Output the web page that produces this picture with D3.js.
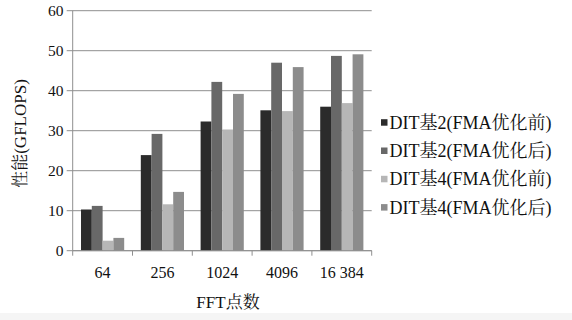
<!DOCTYPE html>
<html><head><meta charset="utf-8">
<script src="https://cdn.jsdelivr.net/npm/d3@7"></script>
</head><body style="margin:0">
<script>
const categories = ["64","256","1024","4096","16 384"];
const seriesNames = ["DIT基2(FMA优化前)","DIT基2(FMA优化后)","DIT基4(FMA优化前)","DIT基4(FMA优化后)"];
const radix2Before = [10.3, 23.9, 32.3, 35.1, 36.0];
const radix2After  = [11.2, 29.2, 42.2, 47.0, 48.7];
const radix4Before = [2.5, 11.6, 30.3, 34.9, 36.9];
const radix4After  = [3.2, 14.7, 39.2, 45.9, 49.1];
const yTicks = [0,10,20,30,40,50,60];
const colors = ["#2b2b2b","#686868","#b6b6b6","#8c8c8c"];
const series = [radix2Before, radix2After, radix4Before, radix4After];

const LATIN = "Liberation Serif", CJK = "Noto Serif CJK SC";
function setText(t, s){
  (s.match(/[\u3400-\u9fff]+|[^\u3400-\u9fff]+/g)||[]).forEach(run=>{
    t.append("tspan").attr("font-family",/[\u3400-\u9fff]/.test(run)?CJK:LATIN).text(run);
  });
  return t;
}

const W=572,H=320;
const svg=d3.select("body").append("svg").attr("width",W).attr("height",H);
svg.append("rect").attr("x",0).attr("y",313).attr("width",W).attr("height",7).attr("fill","#f5f5f5");

const m={l:72.7,r:371.7,t:10.7,b:250.7};
const x=d3.scaleBand().domain(categories).range([m.l,m.r]).paddingInner(0).paddingOuter(0);
const xs=d3.scaleBand().domain(d3.range(4)).range([0,x.bandwidth()]).paddingOuter(0.77).paddingInner(0);
const y=d3.scaleLinear().domain([0,60]).range([m.b,m.t]);

// grid
svg.append("g").selectAll("line").data(yTicks).join("line")
  .attr("x1",m.l-6).attr("x2",m.r).attr("y1",d=>y(d)).attr("y2",d=>y(d))
  .attr("stroke","#8f8f8f").attr("stroke-width",1);
svg.append("line").attr("x1",m.l).attr("x2",m.l).attr("y1",m.t).attr("y2",m.b).attr("stroke","#8f8f8f");

// bars
const g=svg.append("g");
series.forEach((s,i)=>{
  g.selectAll(".b"+i).data(s).join("rect")
   .attr("x",(d,j)=>x(categories[j])+xs(i))
   .attr("width",xs.bandwidth())
   .attr("y",d=>y(d)).attr("height",d=>y(0)-y(d))
   .attr("fill",colors[i]);
});

// bottom axis
const xa=svg.append("g").attr("transform",`translate(0,${m.b})`);
xa.append("line").attr("x1",m.l).attr("x2",m.r).attr("stroke","#8f8f8f");
const tickPos=categories.map(c=>x(c)).concat([m.r]);
xa.selectAll(".t").data(tickPos).join("line").attr("x1",d=>d).attr("x2",d=>d).attr("y1",0).attr("y2",5).attr("stroke","#8f8f8f");

const tg=svg.append("g").attr("font-family",LATIN).attr("fill","#111");
categories.forEach(c=>{
  tg.append("text").attr("x",x(c)+x.bandwidth()/2).attr("y",m.b+27).attr("text-anchor","middle")
    .attr("font-family",LATIN).attr("font-size",16).text(c);
});
yTicks.forEach(v=>{
  tg.append("text").attr("x",63.5).attr("y",y(v)+5.3).attr("text-anchor","end")
    .attr("font-family",LATIN).attr("font-size",15.5).text(v);
});

// titles
setText(tg.append("text").attr("transform","translate(26,133.5) rotate(-90)").attr("text-anchor","middle")
  .attr("font-size",17),"性能(GFLOPS)");
setText(tg.append("text").attr("x",228).attr("y",308).attr("text-anchor","middle")
  .attr("font-size",17),"FFT点数");

// legend
seriesNames.forEach((n,i)=>{
  const cy=122.5+i*28.3;
  svg.append("rect").attr("x",381).attr("y",cy-3.3).attr("width",6.5).attr("height",6.5).attr("fill",colors[i]);
  setText(tg.append("text").attr("x",389.5).attr("y",cy+6.3).attr("font-size",18), n);
});
</script>
</body></html>
